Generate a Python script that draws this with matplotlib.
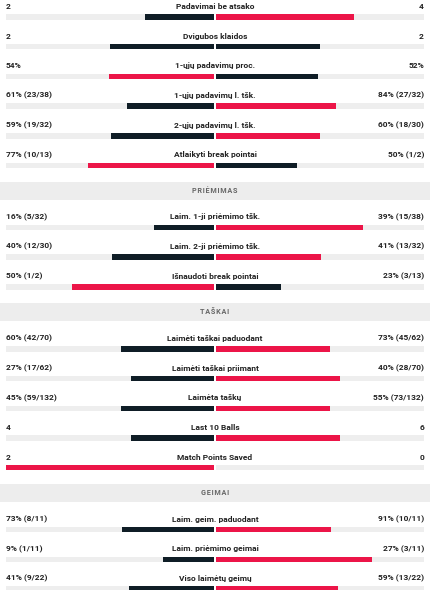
import matplotlib.pyplot as plt

# sections: (header, [labels])
sections = ['', 'PRIĖMIMAS', 'TAŠKAI', 'GEIMAI']

labels = [
  ['Padavimai be atsako', 'Dvigubos klaidos', '1-ųjų padavimų proc.',
   '1-ųjų padavimų l. tšk.', '2-ųjų padavimų l. tšk.', 'Atlaikyti break pointai'],
  ['Laim. 1-ji priėmimo tšk.', 'Laim. 2-ji priėmimo tšk.', 'Išnaudoti break pointai'],
  ['Laimėti taškai paduodant', 'Laimėti taškai priimant', 'Laimėta taškų',
   'Last 10 Balls', 'Match Points Saved'],
  ['Laim. geim. paduodant', 'Laim. priėmimo geimai', 'Viso laimėtų geimų'],
]

left_vals = [
  [2, 2, 54, 61, 59, 77],
  [16, 40, 50],
  [60, 27, 45, 4, 2],
  [73, 9, 41],
]
right_vals = [
  [4, 2, 52, 84, 60, 50],
  [39, 41, 23],
  [73, 40, 55, 6, 0],
  [91, 27, 59],
]
left_text = [
  ['2', '2', '54%', '61% (23/38)', '59% (19/32)', '77% (10/13)'],
  ['16% (5/32)', '40% (12/30)', '50% (1/2)'],
  ['60% (42/70)', '27% (17/62)', '45% (59/132)', '4', '2'],
  ['73% (8/11)', '9% (1/11)', '41% (9/22)'],
]
right_text = [
  ['4', '2', '52%', '84% (27/32)', '60% (18/30)', '50% (1/2)'],
  ['39% (15/38)', '41% (13/32)', '23% (3/13)'],
  ['73% (45/62)', '40% (28/70)', '55% (73/132)', '6', '0'],
  ['91% (10/11)', '27% (3/11)', '59% (13/22)'],
]

RED = '#ec1548'
DARK = '#0f1d26'
TRACK = '#eeeeee'
TXT = '#222222'

plt.rcParams['font.family'] = ['Roboto', 'DejaVu Sans']

fig = plt.figure(figsize=(4.3, 5.9), dpi=100)
ax = fig.add_axes([0, 0, 1, 1])
W = 209.0
ax.set_xlim(-215 / W, 215 / W)
ax.set_ylim(590, 0)
ax.axis('off')

pitch = 29.7
gap = 0.004
bh = 5.5
y = 6.5
for s, head in enumerate(sections):
  if head:
    hy = y - pitch + 36
    ax.axhspan(hy - 9, hy + 9, color='#ededed', lw=0, zorder=0)
    ax.text(0, hy, '\u200a'.join(head), ha='center', va='center',
            fontsize=5.2, color='#666666', fontweight='bold')
    y = hy + 26
  for lab, lv, rv, lt, rt in zip(labels[s], left_vals[s], right_vals[s],
                                 left_text[s], right_text[s]):
    by = y + 10.5
    tot = lv + rv
    ls = lv / tot if tot else 0
    rs = rv / tot if tot else 0
    lc = RED if lv > rv else DARK
    rc = RED if rv > lv else DARK
    ax.barh(by, -(1 - gap), left=-gap, height=bh, color=TRACK, zorder=1)
    ax.barh(by, 1 - gap, left=gap, height=bh, color=TRACK, zorder=1)
    if ls > 0:
      ax.barh(by, -(ls - gap), left=-gap, height=bh, color=lc, zorder=2)
    if rs > 0:
      ax.barh(by, rs - gap, left=gap, height=bh, color=rc, zorder=2)
    ax.text(0, y, lab, ha='center', va='center', fontsize=6,
            color=TXT, fontweight='bold')
    ax.text(-1, y, lt, ha='left', va='center', fontsize=6,
            color=TXT, fontweight='bold')
    ax.text(1, y, rt, ha='right', va='center', fontsize=6,
            color=TXT, fontweight='bold')
    y += pitch

fig.savefig('out.png', dpi=100, facecolor='white')
